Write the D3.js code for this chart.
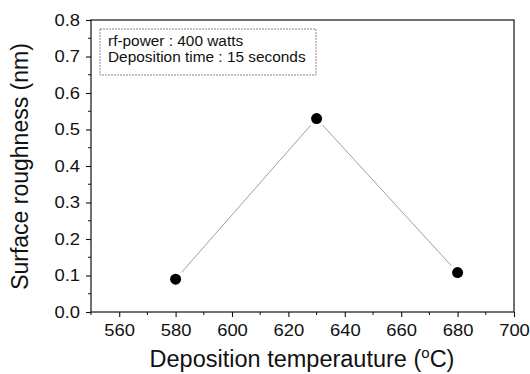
<!DOCTYPE html>
<html>
<head>
<meta charset="utf-8">
<script src="https://cdn.jsdelivr.net/npm/d3@7"></script>
<style>
  body { margin: 0; background: #fff; }
  text { font-family: Arial, "Liberation Sans", sans-serif; fill: #111; }
</style>
</head>
<body>
<div id="chart"></div>
<script>
// data
let temps = [580, 630, 680];
let roughness = [0.09, 0.53, 0.108];
let xTicks = [560, 580, 600, 620, 640, 660, 680, 700];
let yTicks = [0.0, 0.1, 0.2, 0.3, 0.4, 0.5, 0.6, 0.7, 0.8];
let legendLines = ["rf-power : 400 watts", "Deposition time : 15 seconds"];

let width = 530, height = 374;
let margin = {top: 20, right: 16, bottom: 62, left: 91};
let w = width - margin.left - margin.right;
let h = height - margin.top - margin.bottom;

let svg = d3.select("#chart").append("svg")
    .attr("width", width)
    .attr("height", height);
let g = svg.append("g")
    .attr("transform", "translate(" + margin.left + "," + margin.top + ")");

let x = d3.scaleLinear().domain([550, 700]).range([0, w]);
let y = d3.scaleLinear().domain([0, 0.8]).range([h, 0]);

// frame
g.append("rect")
    .attr("width", w).attr("height", h)
    .attr("fill", "none").attr("stroke", "#111").attr("stroke-width", 1.2);

// minor ticks
let xMinor = d3.range(550, 701, 10).filter(d => xTicks.indexOf(d) < 0);
let yMinor = d3.range(0.05, 0.8, 0.1);
g.selectAll(".xminor").data(xMinor).enter().append("line")
    .attr("x1", d => x(d)).attr("x2", d => x(d))
    .attr("y1", h).attr("y2", h + 3)
    .attr("stroke", "#111");
g.selectAll(".yminor").data(yMinor).enter().append("line")
    .attr("x1", -3).attr("x2", 0)
    .attr("y1", d => y(d)).attr("y2", d => y(d))
    .attr("stroke", "#111");

// stretch tick labels a bit wider, like the original
function widen(sel, k) {
    sel.each(function() {
        let t = d3.select(this);
        let tx = +t.attr("x") || 0, ty = +t.attr("y") || 0;
        t.attr("x", 0).attr("y", 0)
         .attr("transform", "translate(" + tx + "," + ty + ") scale(" + k + ",1)");
    });
}

// axes
let xAxis = g.append("g")
    .attr("transform", "translate(0," + h + ")")
    .call(d3.axisBottom(x).tickValues(xTicks).tickSize(5).tickPadding(8).tickSizeOuter(0));
let yAxis = g.append("g")
    .call(d3.axisLeft(y).tickValues(yTicks).tickSize(5).tickPadding(6).tickSizeOuter(0)
        .tickFormat(d3.format(".1f")));
[xAxis, yAxis].forEach(a => {
    a.select(".domain").remove();
    a.selectAll("line").attr("stroke", "#111").attr("stroke-width", 1.1);
    let tx = a.selectAll("text").style("font-size", "16px")
        .style("font-family", "Arial, 'Liberation Sans', sans-serif").attr("fill", "#111");
    widen(tx, 1.15);
});

// connecting line with gaps at markers
let pts = temps.map((t, i) => [x(t), y(roughness[i])]);
let gap = 9;
for (let i = 0; i < pts.length - 1; i++) {
    let a = pts[i], b = pts[i + 1];
    let dx = b[0] - a[0], dy = b[1] - a[1];
    let len = Math.sqrt(dx * dx + dy * dy);
    let ux = dx / len, uy = dy / len;
    g.append("line")
        .attr("x1", a[0] + ux * gap).attr("y1", a[1] + uy * gap)
        .attr("x2", b[0] - ux * gap).attr("y2", b[1] - uy * gap)
        .attr("stroke", "#888").attr("stroke-width", 0.8);
}

// markers
g.selectAll(".pt").data(temps).enter().append("circle")
    .attr("cx", d => x(d))
    .attr("cy", (d, i) => y(roughness[i]))
    .attr("r", 5.5)
    .attr("fill", "#000");

// legend box
let lg = g.append("g").attr("transform", "translate(9,9)");
lg.append("rect")
    .attr("width", 216).attr("height", 46)
    .attr("fill", "#fff").attr("stroke", "#777").attr("stroke-width", 0.9)
    .attr("stroke-dasharray", "2,1");
lg.selectAll("text").data(legendLines).enter().append("text")
    .attr("x", 8).attr("y", (d, i) => 16.5 + i * 16.5)
    .style("font-size", "15.4px")
    .text(d => d);

// axis titles
svg.append("text")
    .attr("transform", "translate(28," + 166.5 + ") rotate(-90)")
    .attr("text-anchor", "middle")
    .style("font-size", "23px")
    .text("Surface roughness (nm)");

let xt = svg.append("text")
    .attr("x", 302).attr("y", 367)
    .attr("text-anchor", "middle")
    .style("font-size", "23.5px");
xt.append("tspan").text("Deposition temperauture (");
xt.append("tspan").attr("dy", -9).style("font-size", "15px").text("o");
xt.append("tspan").attr("dy", 9).text("C)");
</script>
</body>
</html>
